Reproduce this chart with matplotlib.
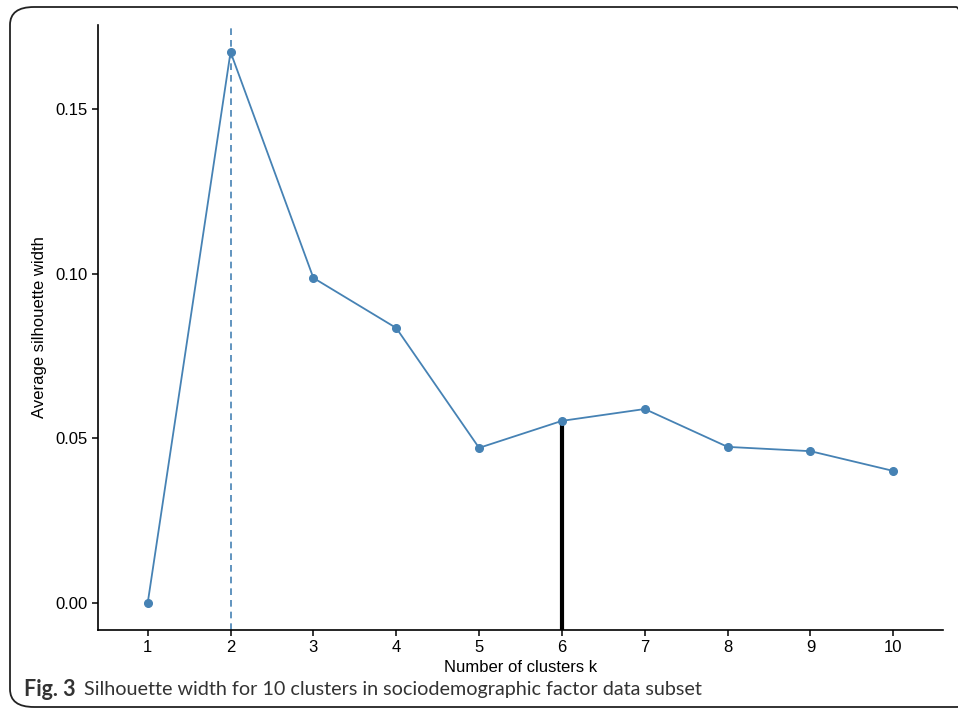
import matplotlib.pyplot as plt
from matplotlib.patches import FancyBboxPatch

# valores
k = [1, 2, 3, 4, 5, 6, 7, 8, 9, 10]
silhueta = [0.0, 0.1673, 0.0987, 0.0835, 0.0471, 0.0553, 0.0589, 0.0474, 0.0461, 0.0401]
k_otimo = 2
k_marcado = 6
yticks = [0.00, 0.05, 0.10, 0.15]

cor = "#4682B4"

fig = plt.figure(figsize=(9.58, 7.15), dpi=100)

# moldura arredondada
moldura = FancyBboxPatch((10 / 958, 8 / 715), 970 / 958, 700 / 715,
                         boxstyle="round,pad=0,rounding_size=0.025",
                         transform=fig.transFigure, fill=False,
                         edgecolor="#222222", linewidth=1.3, clip_on=False)
fig.patches.append(moldura)

ax = fig.add_axes([98 / 958, (715 - 630) / 715, (943 - 98) / 958, (630 - 25) / 715])

ax.axvline(k_otimo, color=cor, linestyle=(0, (4, 3)), linewidth=1.2)
ax.plot(k, silhueta, color=cor, linewidth=1.3, marker="o", markersize=5.5, zorder=3)
ax.vlines(k_marcado, -0.0082, silhueta[k.index(k_marcado)], color="black", linewidth=3, zorder=2)

ax.set_xlim(0.4, 10.6)
ax.set_ylim(-0.0082, 0.1755)
ax.set_xticks(k)
ax.set_yticks(yticks)
ax.set_yticklabels([f"{v:.2f}" for v in yticks])

for s in ["top", "right"]:
    ax.spines[s].set_visible(False)
for s in ["left", "bottom"]:
    ax.spines[s].set_linewidth(1.2)
ax.tick_params(direction="out", length=4, width=1.1, labelsize=12, colors="black")
for lbl in ax.get_xticklabels() + ax.get_yticklabels():
    lbl.set_fontfamily("Liberation Sans")

ax.set_xlabel("Number of clusters k", fontsize=12, fontfamily="Liberation Sans", labelpad=3)
ax.set_ylabel("Average silhouette width", fontsize=12, fontfamily="Liberation Sans", labelpad=6)

fig.text(24 / 958, 1 - 690 / 715, "Fig. 3", fontsize=15.5, fontweight="bold",
         fontfamily="Lato", color="#333333", va="center")
fig.text(84 / 958, 1 - 690 / 715, "Silhouette width for 10 clusters in sociodemographic factor data subset",
         fontsize=14.2, fontfamily="Lato", color="#333333", va="center")

plt.savefig("out.png", dpi=100)
